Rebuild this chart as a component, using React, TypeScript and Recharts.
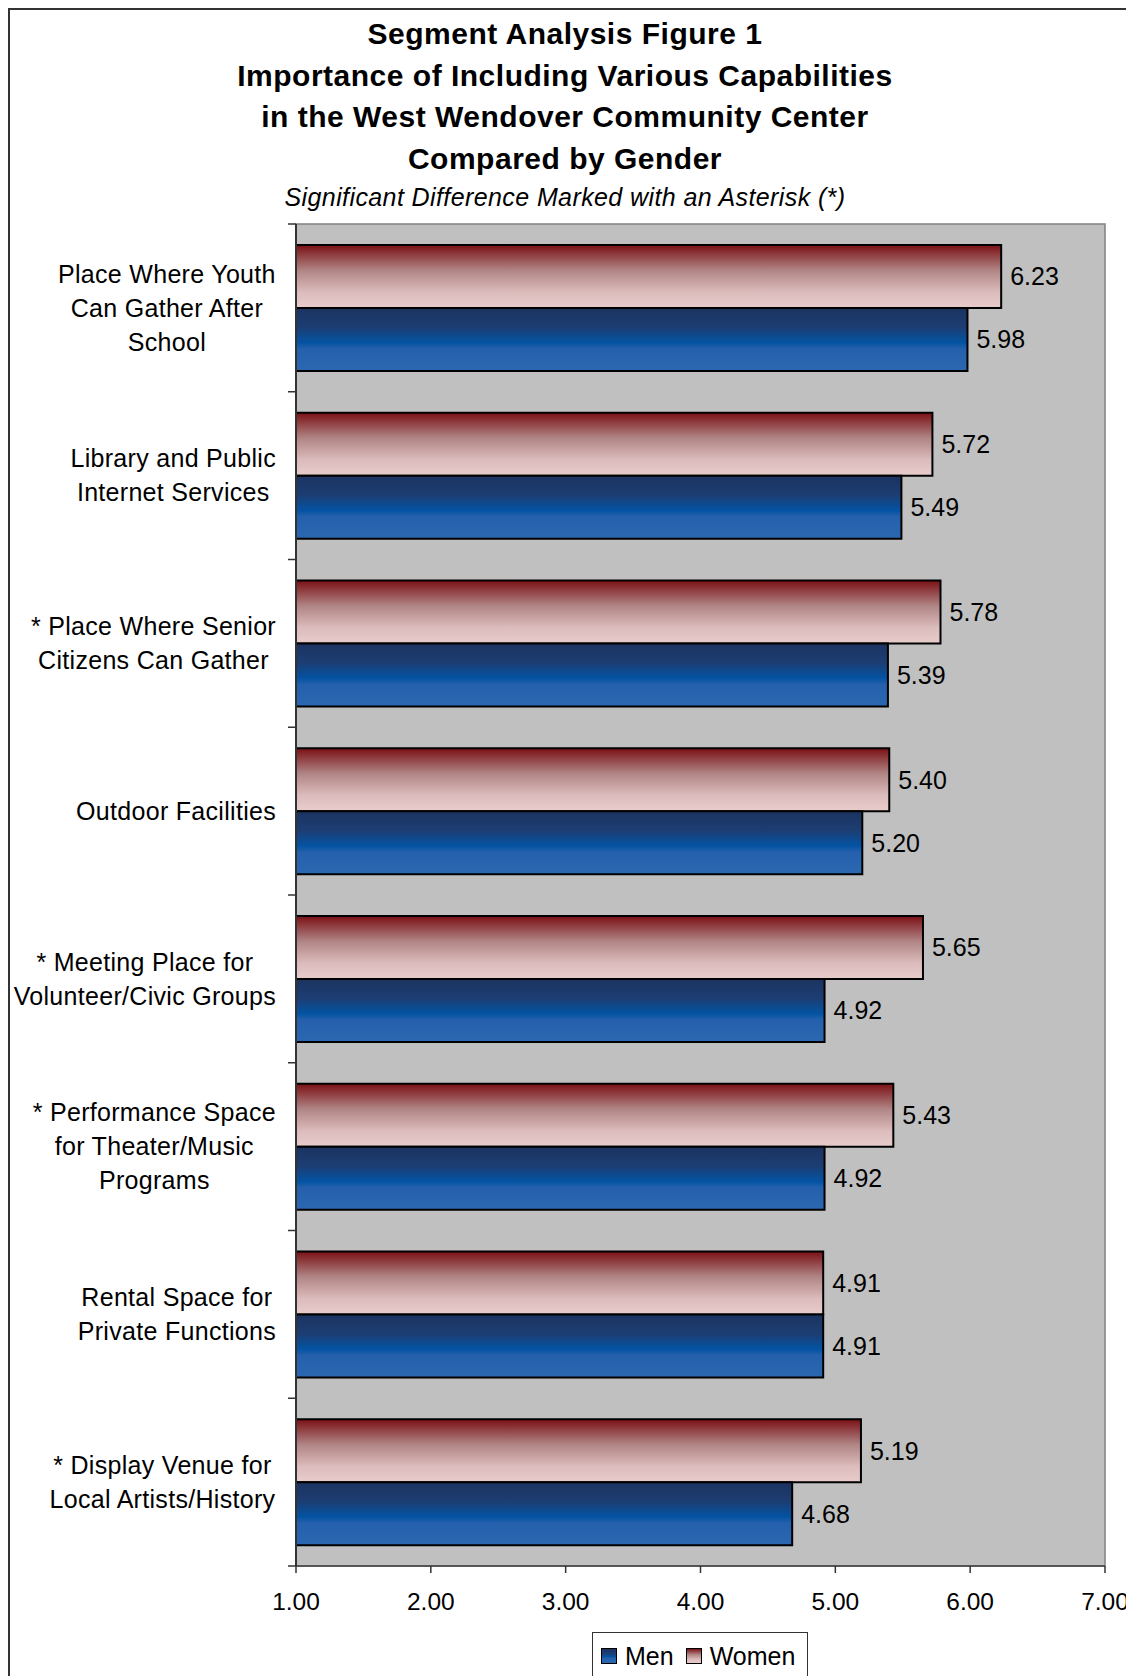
import React from "react";
import {
  BarChart,
  Bar,
  XAxis,
  YAxis,
  CartesianGrid,
  LabelList,
  ReferenceArea,
} from "recharts";

const categories = [
  "Place Where Youth\nCan Gather After\nSchool",
  "Library and Public\nInternet Services",
  "* Place Where Senior\nCitizens Can Gather",
  "Outdoor Facilities",
  "* Meeting Place for\nVolunteer/Civic Groups",
  "* Performance Space\nfor Theater/Music\nPrograms",
  "Rental Space for\nPrivate Functions",
  "* Display Venue for\nLocal Artists/History",
];
const women = [6.23, 5.72, 5.78, 5.4, 5.65, 5.43, 4.91, 5.19];
const men = [5.98, 5.49, 5.39, 5.2, 4.92, 4.92, 4.91, 4.68];
const xTicks = [1, 2, 3, 4, 5, 6, 7];

const titleLines = [
  "Segment Analysis Figure 1",
  "Importance of Including Various Capabilities",
  "in the West Wendover Community Center",
  "Compared by Gender",
];
const subtitle = "Significant Difference Marked with an Asterisk (*)";

const data = categories.map((name, i) => ({ name, women: women[i], men: men[i] }));

const FONT = '"Liberation Sans", Arial, Helvetica, sans-serif';
const LABEL_SIZE = 25;
const LABEL_SPACING = 0.3;

let ctx: CanvasRenderingContext2D | null = null;
const textWidth = (s: string) => {
  if (!ctx) ctx = document.createElement("canvas").getContext("2d");
  if (!ctx) return s.length * 12;
  ctx.font = `${LABEL_SIZE}px ${FONT}`;
  return ctx.measureText(s).width + s.length * LABEL_SPACING;
};

// Excel-style: lines centred in a block whose widest line ends near the axis
const CategoryTick = (props: any) => {
  const { x, y, payload } = props;
  const half = payload?.offset ?? 0;
  const idx = payload?.index ?? props.index;
  const lines = String(payload.value).split("\n");
  const lh = 34;
  const axisX = x + 8;
  const widest = Math.max(...lines.map(textWidth));
  const cx = axisX - 20 - widest / 2;
  const y0 = y - ((lines.length - 1) * lh) / 2;
  return (
    <g>
      <line x1={axisX - 8} x2={axisX} y1={y - half} y2={y - half} stroke="#333" strokeWidth={1.5} />
      {idx === categories.length - 1 && (
        <line x1={axisX - 8} x2={axisX} y1={y + half} y2={y + half} stroke="#333" strokeWidth={1.5} />
      )}
      <text
        textAnchor="middle"
        fontSize={LABEL_SIZE}
        fontFamily={FONT}
        letterSpacing={LABEL_SPACING}
        fill="#000"
      >
        {lines.map((l, i) => (
          <tspan key={i} x={cx} y={y0 + i * lh} dy="0.35em">
            {l}
          </tspan>
        ))}
      </text>
    </g>
  );
};

const swatch = (bg: string): React.CSSProperties => ({
  display: "inline-block",
  width: 14,
  height: 14,
  border: "1px solid #000",
  background: bg,
  marginRight: 8,
  verticalAlign: "middle",
});

const WOMEN_CSS = "linear-gradient(#7a1015, #b08484 40%, #dcbcbc 75%, #e8cccc)";
const MEN_CSS = "linear-gradient(#1b3360, #1d3d72 30%, #0353a3 55%, #2560ac 65%, #2c67b2)";

export default function App() {
  return (
    <div style={{ width: 1123, height: 1668, overflow: "hidden" }}>
      <div
        style={{
          position: "relative",
          width: 1123,
          height: 1700,
          boxSizing: "border-box",
          border: "2px solid #333",
          background: "#fff",
          fontFamily: FONT,
        }}
      >
        <div
          style={{
            position: "absolute",
            left: 0,
            top: 3,
            width: 1110,
            textAlign: "center",
            fontWeight: "bold",
            fontSize: 30,
            letterSpacing: 0.5,
            lineHeight: "41.7px",
            color: "#000",
          }}
        >
          {titleLines.map((t) => (
            <div key={t}>{t}</div>
          ))}
        </div>
        <div
          style={{
            position: "absolute",
            left: 0,
            top: 170,
            width: 1110,
            textAlign: "center",
            fontStyle: "italic",
            fontSize: 25,
            letterSpacing: 0.4,
            lineHeight: "34px",
            color: "#000",
          }}
        >
          {subtitle}
        </div>

        <div style={{ position: "absolute", left: 0, top: 200 }}>
          <BarChart
            width={1118}
            height={1416}
            data={data}
            layout="vertical"
            margin={{ top: 14, right: 23, left: 0, bottom: 0 }}
            barCategoryGap="12.5%"
            barGap={0}
          >
            <defs>
              <linearGradient id="gWomen" x1="0" y1="0" x2="0" y2="1">
                <stop offset="0%" stopColor="#7a1015" />
                <stop offset="40%" stopColor="#b08484" />
                <stop offset="75%" stopColor="#dcbcbc" />
                <stop offset="100%" stopColor="#e8cccc" />
              </linearGradient>
              <linearGradient id="gMen" x1="0" y1="0" x2="0" y2="1">
                <stop offset="0%" stopColor="#1b3360" />
                <stop offset="30%" stopColor="#1d3d72" />
                <stop offset="55%" stopColor="#0353a3" />
                <stop offset="65%" stopColor="#2560ac" />
                <stop offset="100%" stopColor="#2c67b2" />
              </linearGradient>
            </defs>
            <CartesianGrid fill="#c0c0c0" fillOpacity={1} horizontal={false} vertical={false} />
            <ReferenceArea x1={1} x2={7} fill="none" stroke="#808080" strokeWidth={1.5} />
            <XAxis
              type="number"
              domain={[1, 7]}
              ticks={xTicks}
              interval={0}
              tickFormatter={(v: number) => v.toFixed(2)}
              tick={{ fontSize: 24.5, fill: "#000", fontFamily: FONT }}
              tickSize={7}
              tickMargin={20}
              tickLine={{ stroke: "#333", strokeWidth: 1.5 }}
              axisLine={{ stroke: "#555", strokeWidth: 2 }}
              height={60}
            />
            <YAxis
              type="category"
              dataKey="name"
              width={286}
              interval={0}
              tickSize={8}
              tickMargin={0}
              tickLine={false}
              tick={<CategoryTick />}
              axisLine={{ stroke: "#333", strokeWidth: 2 }}
            />
            <Bar dataKey="women" name="Women" fill="url(#gWomen)" stroke="#000" strokeWidth={2} isAnimationActive={false}>
              <LabelList
                dataKey="women"
                position="right"
                offset={9}
                formatter={(v: any) => Number(v).toFixed(2)}
                style={{ fontSize: 25, fill: "#000", fontFamily: FONT }}
              />
            </Bar>
            <Bar dataKey="men" name="Men" fill="url(#gMen)" stroke="#000" strokeWidth={2} isAnimationActive={false}>
              <LabelList
                dataKey="men"
                position="right"
                offset={9}
                formatter={(v: any) => Number(v).toFixed(2)}
                style={{ fontSize: 25, fill: "#000", fontFamily: FONT }}
              />
            </Bar>
          </BarChart>
        </div>

        <div
          style={{
            position: "absolute",
            left: 582,
            top: 1622,
            width: 216,
            height: 60,
            boxSizing: "border-box",
            border: "1.5px solid #333",
            fontSize: 25,
            lineHeight: "42px",
            paddingLeft: 8,
            color: "#000",
            whiteSpace: "nowrap",
          }}
        >
          <span style={swatch(MEN_CSS)} />
          <span style={{ verticalAlign: "middle", marginRight: 12 }}>Men</span>
          <span style={swatch(WOMEN_CSS)} />
          <span style={{ verticalAlign: "middle" }}>Women</span>
        </div>
      </div>
    </div>
  );
}
